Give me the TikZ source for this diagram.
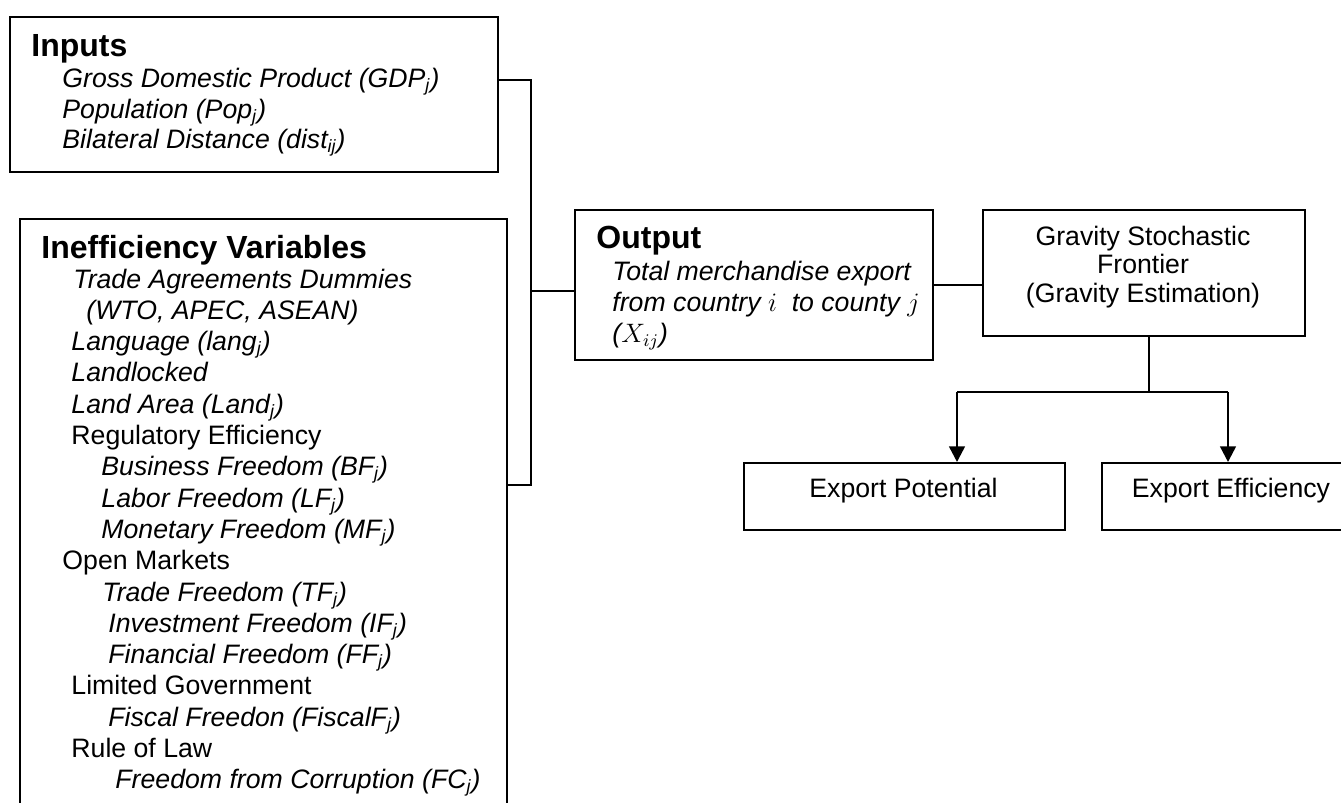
\documentclass[tikz,border=0pt]{standalone}
\usepackage{fontspec}
\setmainfont{Liberation Sans}
\usetikzlibrary{arrows.meta}
\begin{document}
\begin{tikzpicture}[x=0.45pt,y=-0.45pt,
  box/.style={draw,line width=0.75pt,inner sep=0pt,anchor=north west},
  it/.style={anchor=base west,inner sep=0pt,font=\fontsize{12}{14}\selectfont\itshape},
  up/.style={anchor=base west,inner sep=0pt,font=\fontsize{12}{14}\selectfont},
  head/.style={anchor=base west,inner sep=0pt,font=\fontsize{14.4}{16}\selectfont\bfseries},
  ctr/.style={anchor=base,inner sep=0pt,font=\fontsize{12}{14}\selectfont},
  conn/.style={line width=0.75pt},
  arr/.style={line width=1.1pt,-{Triangle[length=7pt,width=7pt]}}]
\useasboundingbox (0,0) rectangle (1341,802);
\clip (0,0) rectangle (1341,802);

% boxes
\node[box,minimum width=219.6pt,minimum height=69.75pt] (inp) at (9,16) {};
\node[box,minimum width=219.15pt,minimum height=275.4pt] (ineff) at (19,218) {};
\node[box,minimum width=161.1pt,minimum height=67.5pt] (out) at (574,209) {};
\node[box,minimum width=144.9pt,minimum height=56.7pt] (grav) at (982,209) {};
\node[box,minimum width=144.45pt,minimum height=30.15pt] (pot) at (743,462) {};
\node[box,minimum width=117pt,minimum height=30.15pt] (eff) at (1101,462) {};

% Inputs text
\node[head] (inph) at (31,56) {Inputs};
\node[it] (in1) at (62,87) {Gross Domestic Product (GDP\textsubscript{j})};
\node[it] (in2) at (62,118) {Population (Pop\textsubscript{j})};
\node[it] (in3) at (62,148) {Bilateral Distance (dist\textsubscript{ij})};

% Inefficiency text
\node[head] (ieh) at (41,258) {Inefficiency Variables};
\node[it] (ie1) at (73,288) {Trade Agreements Dummies};
\node[it] (ie2) at (86,319.3) {(WTO, APEC, ASEAN)};
\node[it] (ie3) at (71,350.6) {Language (lang\textsubscript{j})};
\node[it] (ie4) at (71,381.9) {Landlocked};
\node[it] (ie5) at (71,413.2) {Land Area (Land\textsubscript{j})};
\node[up] (ie6) at (71,444.5) {Regulatory Efficiency};
\node[it] (ie7) at (101,475.8) {Business Freedom (BF\textsubscript{j})};
\node[it] (ie8) at (101,507.1) {Labor Freedom (LF\textsubscript{j})};
\node[it] (ie9) at (101,538.4) {Monetary Freedom (MF\textsubscript{j})};
\node[up] (ie10) at (62,569.7) {Open Markets};
\node[it] (ie11) at (102,601) {Trade Freedom (TF\textsubscript{j})};
\node[it] (ie12) at (108,632.3) {Investment Freedom (IF\textsubscript{j})};
\node[it] (ie13) at (108,663.6) {Financial Freedom (FF\textsubscript{j})};
\node[up] (ie14) at (71,694.9) {Limited Government};
\node[it] (ie15) at (108,726.2) {Fiscal Freedon (FiscalF\textsubscript{j})};
\node[up] (ie16) at (71,757.5) {Rule of Law};
\node[it] (ie17) at (115,788.8) {Freedom from Corruption (FC\textsubscript{j})};

% Output text
\node[head] (outh) at (596,248) {Output};
\node[it] (o1) at (612,280) {Total merchandise export};
\node[it] (o2) at (612,311) {from country $i$\ \ to county $j$};
\node[it] (o3) at (612,342) {($X_{ij}$)};

% Gravity text
\node[ctr] (g1) at (1143,245) {Gravity Stochastic};
\node[ctr] (g2) at (1143,273.5) {Frontier};
\node[ctr] (g3) at (1143,302) {(Gravity Estimation)};

% Export boxes text
\node[ctr] (pt) at (903.5,497) {Export Potential};
\node[ctr] (et) at (1231,497) {Export Efficiency};

% connectors
\coordinate (bt) at (531,80);
\coordinate (bm) at (531,291);
\coordinate (bb) at (531,485);
\draw[conn] (inp.east |- bt) -- (bt) -- (bb) -- (ineff.east |- bb);
\draw[conn] (bm) -- (out.west |- bm);
\coordinate (yog) at (0,285);
\draw[conn] (out.east |- yog) -- (grav.west |- yog);
\coordinate (split) at (1149,392);
\coordinate (al) at (957,392);
\coordinate (ar) at (1228,392);
\draw[conn] (split |- grav.south) -- (split);
\draw[conn] (al) -- (ar);
\draw[arr] (al) -- (al |- pot.north);
\draw[arr] (ar) -- (ar |- eff.north);
\end{tikzpicture}
\end{document}
